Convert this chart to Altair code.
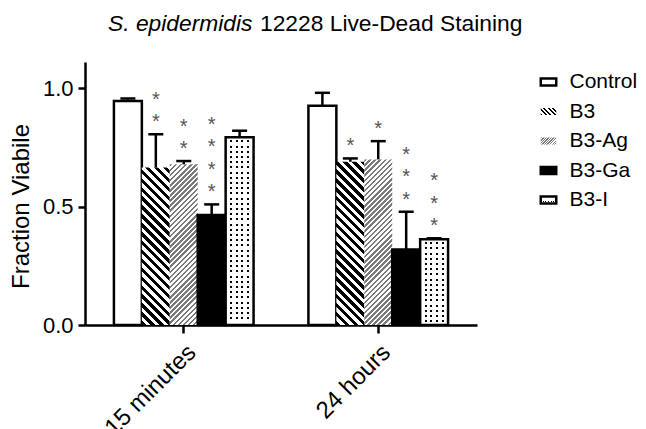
import math
import altair as alt
import pandas as pd

# ---------------- data ----------------
groups = ["15 minutes", "24 hours"]
series = ["Control", "B3", "B3-Ag", "B3-Ga", "B3-I"]
mean_15min = [0.945, 0.665, 0.678, 0.464, 0.792]
err_15min = [0.011, 0.140, 0.014, 0.045, 0.028]
mean_24h = [0.925, 0.689, 0.699, 0.319, 0.362]
err_24h = [0.055, 0.014, 0.077, 0.159, 0.004]
stars_15min = [0, 2, 2, 4, 0]
stars_24h = [0, 1, 1, 3, 3]
y_ticks = [0.0, 0.5, 1.0]
title_italic = "S. epidermidis"
title_rest = "12228 Live-Dead Staining"
y_title = "Fraction Viabile"

# ---------------- layout constants ----------------
W, H, YMAX = 392, 263, 1.11
PAD_IN, PAD_OUT = 0.282, 0.1487
FONT = "Liberation Sans"
CLEAR = "rgba(0,0,0,0)"

step = W / (len(groups) - PAD_IN + 2 * PAD_OUT)
bar_w = step * (1 - PAD_IN) / len(series)
px_per_unit = H / YMAX

rows = []
for g, means, errs, stars in [(groups[0], mean_15min, err_15min, stars_15min),
                              (groups[1], mean_24h, err_24h, stars_24h)]:
    for s, m, e, k in zip(series, means, errs, stars):
        rows.append({"group": g, "series": s, "value": m, "top": m + e, "nstars": k})
df = pd.DataFrame(rows)
legend_df = pd.DataFrame({"series": series})
title_df = pd.DataFrame({"a": [title_italic], "b": [title_rest]})


# ---------------- pattern helpers (gradients) ----------------
def r5(v):
    return round(float(v), 5)


def stripes(w, h, period, ink, paper, direction):
    c = (w + h) / (w * w + h * h)
    if direction == "back":
        x1, y1, x2, y2 = 0, 1, w * c, 1 - h * c
    else:
        x1, y1, x2, y2 = 0, 0, w * c, h * c
    n = (w + h) / math.sqrt(2) / period
    stops = []
    k = 0
    while k < n:
        a = k / n
        b = min((k + 0.5) / n, 1)
        d = min((k + 1) / n, 1)
        stops += [{"offset": r5(a), "color": ink}, {"offset": r5(b), "color": ink},
                  {"offset": r5(b), "color": paper}, {"offset": r5(d), "color": paper}]
        k += 1
    return {"gradient": "linear", "x1": r5(x1), "y1": r5(y1), "x2": r5(x2), "y2": r5(y2),
            "stops": stops}


def dot_rows(h, period, dot, ink, paper, start):
    stops = [{"offset": 0, "color": paper}]
    y = start
    while y + dot <= h - 1:
        stops += [{"offset": r5(y / h), "color": paper}, {"offset": r5(y / h), "color": ink},
                  {"offset": r5((y + dot) / h), "color": ink},
                  {"offset": r5((y + dot) / h), "color": paper}]
        y += period
    stops.append({"offset": 1, "color": paper})
    return {"gradient": "linear", "x1": 0, "y1": 0, "x2": 0, "y2": 1, "stops": stops}


def dot_cols(w, period, dot, paper):
    n = int(w // period)
    margin = (w - (n - 1) * period - dot) / 2
    stops = [{"offset": 0, "color": paper}]
    for k in range(n):
        x = margin + k * period
        stops += [{"offset": r5(x / w), "color": paper}, {"offset": r5(x / w), "color": CLEAR},
                  {"offset": r5((x + dot) / w), "color": CLEAR},
                  {"offset": r5((x + dot) / w), "color": paper}]
    stops.append({"offset": 1, "color": paper})
    return {"gradient": "linear", "x1": 0, "y1": 0, "x2": 1, "y2": 0, "stops": stops}


# ---------------- encodings ----------------
X = alt.X("group:N", sort=groups,
          scale=alt.Scale(domain=groups, paddingInner=PAD_IN, paddingOuter=PAD_OUT),
          axis=alt.Axis(title=None, labelAngle=-45, labelFontSize=24, labelFont=FONT,
                        labelColor="black", tickSize=8, tickWidth=2.5, tickColor="black",
                        domainWidth=2.5, domainColor="black", labelPadding=7,
                        labelOverlap=False, labelBound=False, grid=False))
XO = alt.XOffset("series:N", sort=series,
                 scale=alt.Scale(domain=series, paddingInner=0, paddingOuter=0))
y_scale = alt.Scale(domain=[0, YMAX], nice=False, zero=True)
y_axis = alt.Axis(values=y_ticks, format=".1f", title=y_title, labelFontSize=22,
                  labelFont=FONT, labelColor="black", tickSize=7, tickWidth=2.5,
                  tickColor="black", domainWidth=2.5, domainColor="black", labelPadding=5,
                  titleFont=FONT, titleFontSize=24, titleFontWeight="normal",
                  titleColor="black", titleX=-57, titleY=144, titleAngle=-90,
                  titleBaseline="alphabetic", titleAlign="center", grid=False)
Y_val = alt.Y("value:Q", scale=y_scale, axis=y_axis)
Y_top = alt.Y("top:Q", scale=y_scale, axis=y_axis)

base = alt.Chart(df)
main_layers = []
for _, r in df.iterrows():
    h = r["value"] * px_per_unit
    sel = base.transform_filter(
        f"datum.group === '{r['group']}' && datum.series === '{r['series']}'"
    ).encode(x=X, xOffset=XO, y=Y_val)
    s = r["series"]
    if s == "Control":
        main_layers.append(sel.mark_bar(fill="white", stroke="black", strokeWidth=2.5, opacity=1))
    elif s == "B3":
        main_layers.append(sel.mark_bar(fill=stripes(bar_w, h, 6.3, "black", "white", "back"),
                                        strokeWidth=0, opacity=1))
    elif s == "B3-Ag":
        main_layers.append(sel.mark_bar(fill=stripes(bar_w, h, 3.6, "#7a7a7a", "white", "fwd"),
                                        strokeWidth=0, opacity=1))
    elif s == "B3-Ga":
        main_layers.append(sel.mark_bar(fill="black", stroke="black", strokeWidth=2.5, opacity=1))
    else:
        main_layers.append(sel.mark_bar(fill=dot_rows(h, 5.2, 2.0, "black", "white", 3.0),
                                        strokeWidth=0, opacity=1))
        main_layers.append(sel.mark_bar(fill=dot_cols(bar_w, 5.7, 2.0, "white"),
                                        stroke="black", strokeWidth=2.5, opacity=1))

err_rule = base.mark_rule(color="black", strokeWidth=2.5, opacity=1).encode(
    x=X, xOffset=XO, y=Y_val, y2="top:Q")
err_cap = base.mark_tick(orient="horizontal", size=15, thickness=2.5, color="black",
                         opacity=1).encode(x=X, xOffset=XO, y=Y_top)

# significance asterisks: one text layer per stacking level
STAR_GAP = 22.5
star_layers = []
for k in range(1, max(stars_15min + stars_24h) + 1):
    star_layers.append(
        base.transform_filter(f"datum.nstars >= {k}").mark_text(
            text="*", fontSize=20, font=FONT, color="#555555",
            baseline="bottom", dy=-2 - (k - 1) * STAR_GAP, align="center").encode(
            x=X, xOffset=XO, y=Y_top))

main = alt.layer(*main_layers, err_rule, err_cap, *star_layers)

# ---------------- legend (manual, patterned) ----------------
SW, SH = 31, 14
LY = alt.Y("series:N", sort=series,
           scale=alt.Scale(type="point", domain=series, range=[20, 138], padding=0), axis=None)
shape = "M-1.1,-0.5H1.1V0.5H-1.1Z"
lbase = alt.Chart(legend_df)
leg_layers = []
for s in series:
    sel = lbase.transform_filter(f"datum.series === '{s}'").encode(x=alt.value(463.5), y=LY)
    kw = dict(shape=shape, size=198, filled=True, opacity=1)
    if s == "Control":
        leg_layers.append(sel.mark_point(fill="white", stroke="black", strokeWidth=2.5, **kw))
    elif s == "B3":
        leg_layers.append(sel.mark_point(fill=stripes(SW, SH, 6.3, "black", "white", "back"),
                                         strokeWidth=0, **kw))
    elif s == "B3-Ag":
        leg_layers.append(sel.mark_point(fill=stripes(SW, SH, 3.6, "#7a7a7a", "white", "fwd"),
                                         strokeWidth=0, **kw))
    elif s == "B3-Ga":
        leg_layers.append(sel.mark_point(fill="black", stroke="black", strokeWidth=2.5, **kw))
    else:
        leg_layers.append(sel.mark_point(fill=dot_rows(SH, 20, 2.0, "black", "white", 8.0),
                                         strokeWidth=0, **kw))
        leg_layers.append(sel.mark_point(fill=dot_cols(SW, 5.2, 2.0, "white"),
                                         stroke="black", strokeWidth=2.5, **kw))
leg_text = lbase.mark_text(align="left", baseline="middle", fontSize=21, font=FONT,
                           color="black").encode(x=alt.value(484.5), y=LY, text="series:N")
legend = alt.layer(*leg_layers, leg_text)

# ---------------- title (mixed italic / normal) ----------------
t_base = alt.Chart(title_df)
t_it = t_base.mark_text(align="right", baseline="alphabetic", fontSize=22.8, font=FONT,
                        fontStyle="italic", color="black").encode(
    x=alt.value(167.5), y=alt.value(-31), text="a:N")
t_rest = t_base.mark_text(align="left", baseline="alphabetic", fontSize=22.8, font=FONT,
                          color="black").encode(
    x=alt.value(175), y=alt.value(-31), text="b:N")

chart = alt.layer(main, legend, t_it, t_rest).resolve_scale(y="independent").properties(
    width=W, height=H,
    autosize=alt.AutoSizeParams(type="none"),
    padding={"left": 77, "top": 54, "right": 161, "bottom": 104},
    background="white",
).configure_view(stroke=None)

chart.save("out.html", embed_options={"renderer": "svg", "actions": False})
